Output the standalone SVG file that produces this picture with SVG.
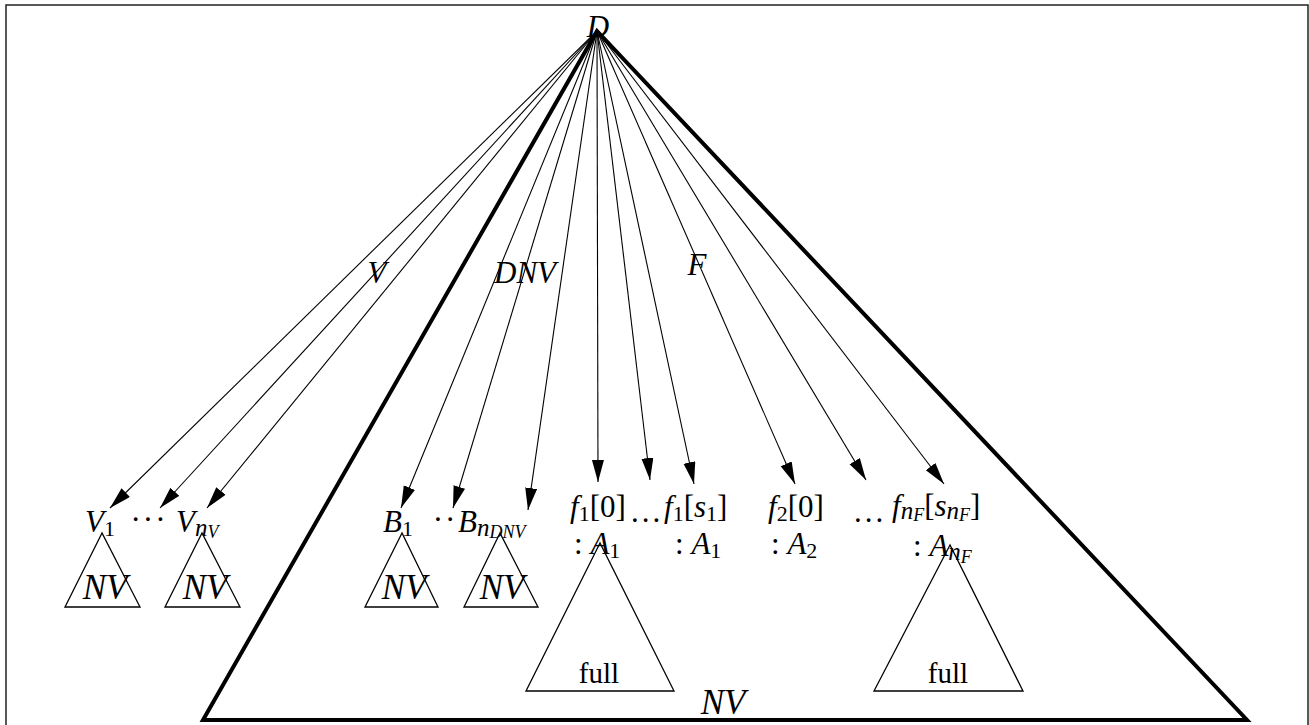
<svg xmlns="http://www.w3.org/2000/svg" width="1309" height="725" viewBox="0 0 1309 725">
<style>
.m{font-family:"Liberation Serif","Times New Roman",serif;font-style:italic;font-size:31px;fill:#000}
.r{font-family:"Liberation Serif","Times New Roman",serif;font-style:normal;font-size:31px;fill:#000}
.s{font-size:22px}
.sn{font-size:25px}
.ss{font-size:18px}
.nv{font-size:35px}
.full{font-size:29px}
.edge{stroke:#000;stroke-width:1.1;fill:none;marker-end:url(#ah)}
.tri{fill:none;stroke:#000;stroke-width:1.3}
</style>
<defs>
<marker id="ah" markerUnits="userSpaceOnUse" markerWidth="24" markerHeight="14" refX="22" refY="6" orient="auto">
<path d="M0,0 L22,6 L0,12 z" fill="#000"/>
</marker>
</defs>
<rect x="6" y="5" width="1302" height="740" fill="#fff" stroke="#222" stroke-width="1.5"/>
<g id="big-triangle">
<polygon points="597,31 203,720 1247,720" fill="none" stroke="#000" stroke-width="4" stroke-linejoin="miter"/>
<text class="m nv" x="723" y="714" text-anchor="middle">NV</text>
</g>
<g id="connectors">
<line class="edge" x1="597" y1="31" x2="110" y2="508"/>
<line class="edge" x1="597" y1="31" x2="160" y2="508"/>
<line class="edge" x1="597" y1="31" x2="207" y2="508"/>
<line class="edge" x1="597" y1="31" x2="401" y2="508"/>
<line class="edge" x1="597" y1="31" x2="453" y2="508"/>
<line class="edge" x1="597" y1="31" x2="528" y2="510"/>
<line class="edge" x1="597" y1="31" x2="598" y2="482"/>
<line class="edge" x1="597" y1="31" x2="650" y2="480"/>
<line class="edge" x1="597" y1="31" x2="694" y2="484"/>
<line class="edge" x1="597" y1="31" x2="795" y2="484"/>
<line class="edge" x1="597" y1="31" x2="866" y2="480"/>
<line class="edge" x1="597" y1="31" x2="944" y2="484"/>
<text class="m" x="377" y="283" text-anchor="middle">V</text>
<text class="m" x="525" y="283" text-anchor="middle">DNV</text>
<text class="m" x="697" y="275" text-anchor="middle">F</text>
</g>
<g id="node-D">
<text class="m" x="598" y="37" text-anchor="middle" font-size="34">D</text>
</g>
<g id="node-V1">
<text class="m" x="85" y="532">V<tspan class="r s" dy="4">1</tspan></text>
<polygon class="tri" points="102,533 65,607 140,607"/>
<text class="m nv" x="105" y="599" text-anchor="middle">NV</text>
</g>
<g id="node-dots-V">
<text class="r" x="149" y="530" text-anchor="middle" letter-spacing="2">···</text>
</g>
<g id="node-Vn">
<text class="m" x="176" y="532">V<tspan class="sn" dy="4">n</tspan><tspan class="ss" dy="2">V</tspan></text>
<polygon class="tri" points="202,533 165,607 240,607"/>
<text class="m nv" x="205" y="599" text-anchor="middle">NV</text>
</g>
<g id="node-B1">
<text class="m" x="383" y="532">B<tspan class="r s" dy="4">1</tspan></text>
<polygon class="tri" points="402,533 365,607 438,607"/>
<text class="m nv" x="404" y="599" text-anchor="middle">NV</text>
</g>
<g id="node-dots-B">
<text class="r" x="445" y="530" text-anchor="middle" letter-spacing="2">··</text>
</g>
<g id="node-Bn">
<text class="m" x="458" y="532">B<tspan class="sn" dy="4">n</tspan><tspan class="ss" dy="2">DNV</tspan></text>
<polygon class="tri" points="500,533 464,607 538,607"/>
<text class="m nv" x="502" y="599" text-anchor="middle">NV</text>
</g>
<g id="node-f1-0">
<text class="m" x="570" y="517">f<tspan class="r s" dy="4">1</tspan><tspan class="r" dy="-4">[0]</tspan></text>
<text class="m" x="574" y="554"><tspan class="r">: </tspan>A<tspan class="r s" dy="4">1</tspan></text>
<polygon class="tri" points="600,543 526,691 674,691"/>
<text class="r full" x="599" y="683" text-anchor="middle">full</text>
</g>
<g id="node-dots-f1">
<text class="r" x="647" y="522" text-anchor="middle" letter-spacing="3">...</text>
</g>
<g id="node-f1-s1">
<text class="m" x="664" y="517">f<tspan class="r s" dy="4">1</tspan><tspan class="r" dy="-4">[</tspan>s<tspan class="r s" dy="4">1</tspan><tspan class="r" dy="-4">]</tspan></text>
<text class="m" x="675" y="554"><tspan class="r">: </tspan>A<tspan class="r s" dy="4">1</tspan></text>
</g>
<g id="node-f2-0">
<text class="m" x="768" y="517">f<tspan class="r s" dy="4">2</tspan><tspan class="r" dy="-4">[0]</tspan></text>
<text class="m" x="771" y="554"><tspan class="r">: </tspan>A<tspan class="r s" dy="4">2</tspan></text>
</g>
<g id="node-dots-fn">
<text class="r" x="870" y="522" text-anchor="middle" letter-spacing="3">...</text>
</g>
<g id="node-fn">
<text class="m" x="892" y="516">f<tspan class="sn" dy="3">n</tspan><tspan class="ss" dy="2">F</tspan><tspan class="r" dy="-5">[</tspan>s<tspan class="sn" dy="3">n</tspan><tspan class="ss" dy="2">F</tspan><tspan class="r" dy="-5">]</tspan></text>
<text class="m" x="913" y="556"><tspan class="r">: </tspan>A<tspan class="sn" dy="4">n</tspan><tspan class="ss" dy="3">F</tspan></text>
<polygon class="tri" points="950,545 874,691 1023,691"/>
<text class="r full" x="948" y="683" text-anchor="middle">full</text>
</g>
</svg>
